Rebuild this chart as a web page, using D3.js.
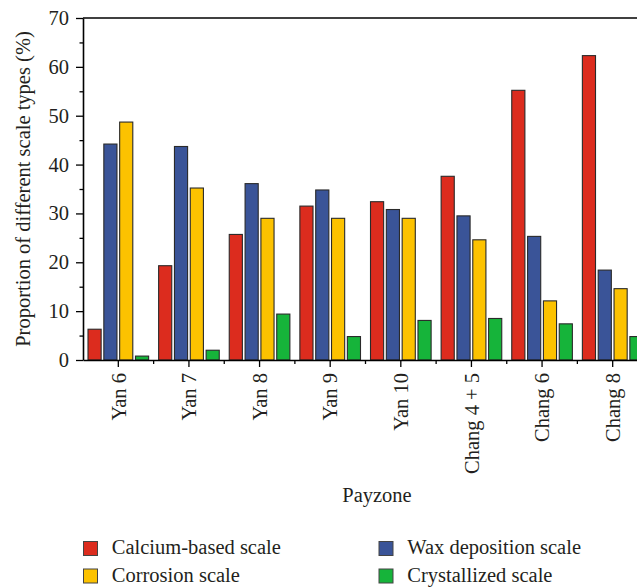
<!DOCTYPE html>
<html>
<head>
<meta charset="utf-8">
<script src="https://cdn.jsdelivr.net/npm/d3@7/dist/d3.min.js"></script>
<style>
  html, body { margin: 0; padding: 0; background: #fff; }
  svg { display: block; }
</style>
</head>
<body>
<script>
// Payzones along the x axis
const payzones = ["Yan 6", "Yan 7", "Yan 8", "Yan 9", "Yan 10", "Chang 4 + 5", "Chang 6", "Chang 8"];

// Scale types (series) and their share in each payzone, %
const seriesNames = ["Calcium-based scale", "Wax deposition scale", "Corrosion scale", "Crystallized scale"];
const calcium     = [6.3, 19.3, 25.7, 31.5, 32.4, 37.6, 55.2, 62.3];
const wax         = [44.2, 43.7, 36.1, 34.8, 30.8, 29.5, 25.3, 18.4];
const corrosion   = [48.7, 35.2, 29.0, 29.0, 29.0, 24.6, 12.1, 14.6];
const crystalized = [0.8, 2.0, 9.4, 4.8, 8.1, 8.5, 7.4, 4.8];
const seriesColors = ["#dc2c1e", "#3a5498", "#fcc200", "#16b43a"];

// Y axis ticks
const yMajorTicks = [0, 10, 20, 30, 40, 50, 60, 70];
const yMinorTicks = [5, 15, 25, 35, 45, 55, 65];

const W = 637, H = 587;
const plot = { left: 83, top: 18, right: 648, bottom: 360 };
const FONT_FAMILY = '"Liberation Serif", "Times New Roman"';
const FONT = "20.5px";
const INK = "#231f20";

const svg = d3.select("body").append("svg").attr("width", W).attr("height", H);

const x0 = d3.scaleBand().domain(payzones).range([plot.left, plot.right]);
const x1 = d3.scaleBand().domain(seriesNames)
  .range([5, x0.bandwidth() - 5]).paddingInner(0.17).paddingOuter(0);
const y = d3.scaleLinear().domain([0, 70]).range([plot.bottom, plot.top]);
const color = d3.scaleOrdinal().domain(seriesNames).range(seriesColors);

const seriesValues = [calcium, wax, corrosion, crystalized];
const rows = [];
payzones.forEach((p, i) => {
  seriesNames.forEach((s, j) => rows.push({ zone: p, series: s, value: seriesValues[j][i] }));
});

function styleText(sel) {
  sel.style("font-family", FONT_FAMILY).style("font-size", FONT).attr("fill", INK);
}

// Bars
svg.append("g").selectAll("rect").data(rows).join("rect")
  .attr("x", d => x0(d.zone) + x1(d.series))
  .attr("y", d => y(d.value))
  .attr("width", x1.bandwidth())
  .attr("height", d => y(0) - y(d.value))
  .attr("fill", d => color(d.series))
  .attr("stroke", "#2a2a2a")
  .attr("stroke-width", 1.1);

// Top frame line
svg.append("line")
  .attr("x1", plot.left).attr("x2", plot.right)
  .attr("y1", plot.top).attr("y2", plot.top)
  .attr("stroke", "#000").attr("stroke-width", 1.6);

// Y axis
const yAxis = svg.append("g").attr("transform", `translate(${plot.left},0)`)
  .call(d3.axisLeft(y).tickValues(yMajorTicks).tickSize(7).tickPadding(7).tickSizeOuter(0));
yAxis.select(".domain").attr("stroke-width", 1.6);
yAxis.selectAll(".tick line").attr("stroke-width", 1.3);
yAxis.selectAll("text").call(styleText);
svg.append("g").attr("transform", `translate(${plot.left},0)`)
  .call(d3.axisLeft(y).tickValues(yMinorTicks).tickSize(3.5).tickFormat("").tickSizeOuter(0))
  .call(g => g.select(".domain").remove())
  .selectAll(".tick line").attr("stroke-width", 1.3);

// X axis
const xAxis = svg.append("g").attr("transform", `translate(0,${plot.bottom})`)
  .call(d3.axisBottom(x0).tickSize(7).tickSizeOuter(0));
xAxis.select(".domain").attr("stroke-width", 1.6);
xAxis.selectAll(".tick line").attr("stroke-width", 1.3);
xAxis.selectAll("text")
  .call(styleText)
  .attr("transform", "rotate(-90)")
  .attr("x", -13).attr("y", 0).attr("dy", "0.35em")
  .style("text-anchor", "end");
// Minor ticks on band boundaries
svg.append("g").selectAll("line").data(payzones).join("line")
  .attr("x1", d => x0(d) + x0.bandwidth())
  .attr("x2", d => x0(d) + x0.bandwidth())
  .attr("y1", plot.bottom).attr("y2", plot.bottom + 4)
  .attr("stroke", "#000").attr("stroke-width", 1.3);

// Axis titles
svg.append("text")
  .attr("transform", "translate(29.5,189) rotate(-90)")
  .attr("text-anchor", "middle")
  .call(styleText)
  .text("Proportion of different scale types (%)");

svg.append("text")
  .attr("x", 377).attr("y", 502)
  .attr("text-anchor", "middle")
  .call(styleText)
  .text("Payzone");

// Legend
const legendPos = [
  { x: 83.5, y: 541.5 },
  { x: 379, y: 541.5 },
  { x: 83.5, y: 569 },
  { x: 379, y: 569 }
];
const legend = svg.append("g").selectAll("g").data(seriesNames).join("g")
  .attr("transform", (d, i) => `translate(${legendPos[i].x},${legendPos[i].y})`);
legend.append("rect")
  .attr("width", 14).attr("height", 14)
  .attr("fill", d => color(d))
  .attr("stroke", "#444").attr("stroke-width", 1);
legend.append("text")
  .attr("x", 28.3).attr("y", 12.8)
  .call(styleText)
  .text(d => d);
</script>
</body>
</html>
